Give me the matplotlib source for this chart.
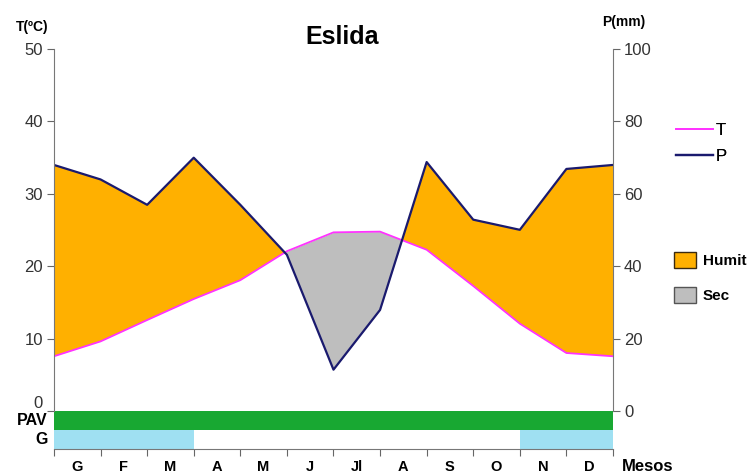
import numpy as np
import matplotlib.pyplot as plt
from matplotlib.lines import Line2D
from matplotlib.patches import Patch

plt.rcParams['font.family'] = ['Liberation Sans', 'DejaVu Sans']

mesos = ['G', 'F', 'M', 'A', 'M', 'J', 'Jl', 'A', 'S', 'O', 'N', 'D']
temp = [7.6, 9.65, 12.6, 15.5, 18.1, 22.1, 24.7, 24.8, 22.3, 17.3, 12.1, 8.05, 7.6]
prec = [68, 64, 57, 70, 57, 43.2, 11.5, 28, 68.8, 52.9, 50.1, 66.9, 68]
# periode d'activitat vegetativa i gelades (1 = si)
pav = [1, 1, 1, 1, 1, 1, 1, 1, 1, 1, 1, 1]
gelades = [1, 1, 1, 0, 0, 0, 0, 0, 0, 0, 1, 1]

x = np.arange(len(temp))
t = np.array(temp)
p2 = np.array(prec) / 2.0

fig = plt.figure(figsize=(7.55, 4.74), dpi=100)
ax = fig.add_axes([0.0715, 0.0527, 0.7404, 0.8439])

orange = '#FFB000'
gris = '#BEBEBE'
ax.fill_between(x, t, p2, where=p2 >= t, interpolate=True, color=orange, lw=0)
ax.fill_between(x, t, p2, where=p2 < t, interpolate=True, color=gris, lw=0)
ax.plot(x, t, color='#FF33FF', lw=1.3)
ax.plot(x, p2, color='#1A1A6E', lw=1.6)

# barres PAV i G
for i in range(12):
    if pav[i]:
        ax.fill_between([i, i + 1], -2.52, 0, color='#18A832', lw=0)
    if gelades[i]:
        ax.fill_between([i, i + 1], -5.2, -2.52, color='#9FE0F2', lw=0)

ax.set_xlim(0, 12)
ax.set_ylim(-5.2, 50)
ax.set_yticks([0, 10, 20, 30, 40, 50])
ax.set_xticks(range(13))
ax.set_xticklabels([])
ax.set_xticks(np.arange(12) + 0.5, minor=True)
ax.set_xticklabels(mesos, minor=True, fontweight='bold', fontsize=10.5)
ax.tick_params(axis='x', which='minor', length=0, pad=8)
ax.tick_params(axis='x', which='major', length=5, color='#666666', direction='out')
ax.tick_params(axis='y', length=5, color='#666666', labelsize=12, labelcolor='#333333', pad=3)
for s in ['top', 'right']:
    ax.spines[s].set_visible(False)
ax.spines['left'].set_color('#777777')
ax.spines['bottom'].set_color('#777777')
ax.spines['left'].set_bounds(0, 50)
# la etiqueta 0 queda una mica per damunt de la barra PAV
ylab0 = ax.get_yticklabels()[0]
ylab0.set_verticalalignment('bottom')
ylab0.set_y(-0.8)

ax2 = ax.twinx()
ax2.set_ylim(-10.4, 100)
ax2.set_yticks([0, 20, 40, 60, 80, 100])
ax2.tick_params(axis='y', length=5, color='#666666', labelsize=12, labelcolor='#333333', pad=3)
for s in ['top', 'left', 'bottom']:
    ax2.spines[s].set_visible(False)
ax2.spines['right'].set_color('#777777')
ax2.spines['right'].set_bounds(0, 100)

fig.text(0.453, 0.922, 'Eslida', ha='center', va='center', fontsize=18, fontweight='bold')
fig.text(0.043, 0.943, 'T(ºC)', ha='center', va='center', fontsize=10, fontweight='bold')
fig.text(0.826, 0.953, 'P(mm)', ha='center', va='center', fontsize=10, fontweight='bold')
fig.text(0.063, 0.112, 'PAV', ha='right', va='center', fontsize=11.5, fontweight='bold')
fig.text(0.063, 0.072, 'G', ha='right', va='center', fontsize=11.5, fontweight='bold')
fig.text(0.824, 0.016, 'Mesos', ha='left', va='center', fontsize=12, fontweight='bold')

h1 = [Line2D([], [], color='#FF33FF', lw=1.3), Line2D([], [], color='#1A1A6E', lw=1.6)]
leg1 = fig.legend(h1, ['T', 'P'], loc='upper left', bbox_to_anchor=(0.887, 0.755),
                  frameon=False, fontsize=12, handlelength=2.2, handletextpad=0.15,
                  labelspacing=0.65, borderaxespad=0)
h2 = [Patch(facecolor=orange, edgecolor='#3A2A10'), Patch(facecolor=gris, edgecolor='#555555')]
leg2 = fig.legend(h2, ['Humit', 'Sec'], loc='upper left', bbox_to_anchor=(0.884, 0.482),
                  frameon=False, handlelength=1.45, handleheight=1.25, handletextpad=0.45,
                  labelspacing=1.25, borderaxespad=0, prop={'weight': 'bold', 'size': 11})
fig.add_artist(leg1)

fig.savefig('out.png', dpi=100)
